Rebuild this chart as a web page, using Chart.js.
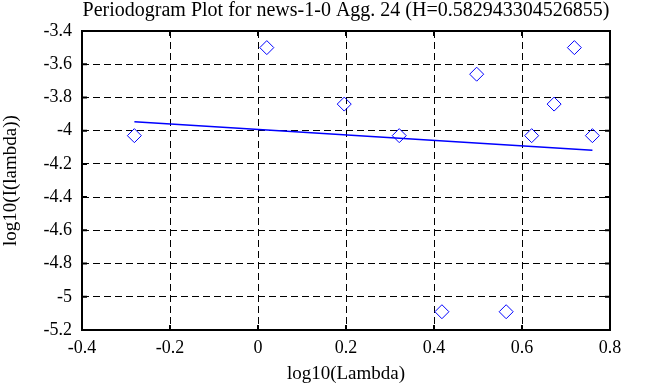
<!DOCTYPE html>
<html lang="en">
<head>
    <meta charset="UTF-8">
    <title>Periodogram Plot</title>
    <script src="https://cdn.jsdelivr.net/npm/chart.js"></script>
    <style>
        html, body { margin: 0; padding: 0; background: #fff; }
        #wrap { width: 647px; height: 387px; }
    </style>
</head>
<body>
    <div id="wrap"><canvas id="chart" width="647" height="387"></canvas></div>

    <script>
        // periodogram points (log10 lambda vs log10 I(lambda))
        const logLambda = [-0.281, 0.020, 0.196, 0.321, 0.418, 0.497, 0.564, 0.622, 0.673, 0.719, 0.760];
        const logI      = [-4.03, -3.50, -3.84, -4.03, -5.09, -3.66, -5.09, -4.03, -3.84, -3.50, -4.03];
        // fitted line end points
        const fitX = [-0.281, 0.760];
        const fitY = [-3.947, -4.118];
        const xTicks = [-0.4, -0.2, 0, 0.2, 0.4, 0.6, 0.8];
        const yTicks = [-5.2, -5, -4.8, -4.6, -4.4, -4.2, -4, -3.8, -3.6, -3.4];
        const titleText = 'Periodogram Plot for news-1-0 Agg. 24 (H=0.582943304526855)';

        const serif = 'Liberation Serif, Times New Roman, serif';
        const fmt = v => String(Math.round(v * 10) / 10);

        // solid frame, short inward tick marks and the title over the plot box
        const frame = {
            id: 'frame',
            afterDraw(chart) {
                const {ctx, chartArea: a, scales: {x, y}} = chart;
                ctx.save();
                ctx.strokeStyle = '#000';
                ctx.lineWidth = 2;
                ctx.strokeRect(a.left, a.top, a.right - a.left, a.bottom - a.top);
                ctx.beginPath();
                xTicks.forEach(v => {
                    const px = x.getPixelForValue(v);
                    ctx.moveTo(px, a.bottom); ctx.lineTo(px, a.bottom - 5);
                    ctx.moveTo(px, a.top); ctx.lineTo(px, a.top + 5);
                });
                yTicks.forEach(v => {
                    const py = y.getPixelForValue(v);
                    ctx.moveTo(a.left, py); ctx.lineTo(a.left + 5, py);
                    ctx.moveTo(a.right, py); ctx.lineTo(a.right - 5, py);
                });
                ctx.stroke();

                ctx.fillStyle = '#000';
                ctx.font = '20px ' + serif;
                ctx.textAlign = 'center';
                ctx.textBaseline = 'alphabetic';
                ctx.fillText(titleText, (a.left + a.right) / 2, 16);
                ctx.restore();
            }
        };

        new Chart(document.getElementById('chart'), {
            type: 'scatter',
            data: {
                datasets: [
                    {
                        data: logLambda.map((v, i) => ({x: v, y: logI[i]})),
                        pointStyle: 'rectRot',
                        pointRadius: 7,
                        borderColor: '#0000ff',
                        backgroundColor: 'rgba(0,0,0,0)',
                        borderWidth: 1
                    },
                    {
                        data: fitX.map((v, i) => ({x: v, y: fitY[i]})),
                        showLine: true,
                        pointRadius: 0,
                        borderColor: '#0000ff',
                        borderWidth: 1.5
                    }
                ]
            },
            options: {
                responsive: false,
                animation: false,
                layout: { padding: { top: 31, right: 37 } },
                plugins: {
                    legend: { display: false },
                    tooltip: { enabled: false },
                    title: { display: false }
                },
                scales: {
                    x: {
                        type: 'linear',
                        min: -0.4, max: 0.8,
                        afterBuildTicks: s => { s.ticks = xTicks.map(v => ({value: v})); },
                        afterFit: s => { s.height = 57; },
                        ticks: { color: '#000', font: { family: serif, size: 18 }, padding: 7, callback: fmt, maxRotation: 0 },
                        grid: { color: '#000', lineWidth: 1, drawTicks: false },
                        border: { display: false, dash: [7, 4] },
                        title: { display: true, text: 'log10(Lambda)', color: '#000', font: { family: serif, size: 19 }, padding: { top: 0, bottom: 2 } }
                    },
                    y: {
                        min: -5.2, max: -3.4,
                        afterBuildTicks: s => { s.ticks = yTicks.map(v => ({value: v})); },
                        afterFit: s => { s.width = 82; },
                        ticks: { color: '#000', font: { family: serif, size: 18 }, padding: 10, callback: fmt },
                        grid: { color: '#000', lineWidth: 1, drawTicks: false },
                        border: { display: false, dash: [7, 4] },
                        title: { display: true, text: 'log10(I(lambda))', color: '#000', font: { family: serif, size: 19 }, padding: { top: 0, bottom: 0 } }
                    }
                }
            },
            plugins: [frame]
        });
    </script>
</body>
</html>
